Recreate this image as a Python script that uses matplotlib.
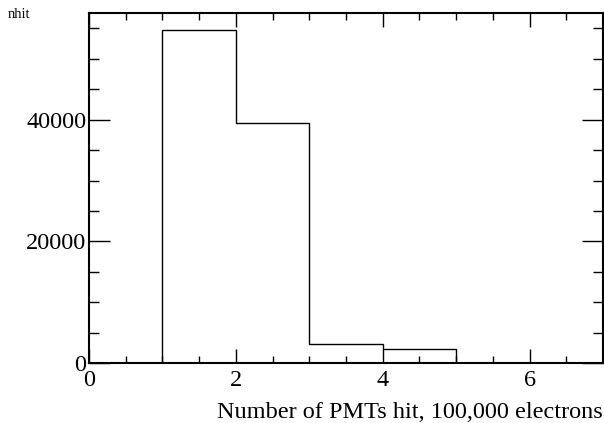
import matplotlib
matplotlib.use("Agg")
import matplotlib.pyplot as plt
from matplotlib.ticker import MultipleLocator

bin_edges = [0, 1, 2, 3, 4, 5, 6, 7]
counts = [0, 54800, 39500, 3130, 2380, 0, 0]
xticks = [0, 2, 4, 6]
yticks = [0, 20000, 40000]
xlabel = "Number of PMTs hit, 100,000 electrons"
ylabel = "nhit"

plt.rcParams['font.family'] = ['Liberation Serif', 'DejaVu Serif']
fig = plt.figure(figsize=(6.04, 4.23), dpi=100)
ax = fig.add_axes([89/604, 1-363/423, 514/604, 350/423])
ax.stairs(counts, bin_edges, color='black', linewidth=1.0)
ax.set_xlim(0, 7)
ax.set_ylim(0, 1.05*max(counts))
ax.set_xticks(xticks)
ax.set_yticks(yticks)
ax.set_xticklabels([str(t) for t in xticks])
ax.set_yticklabels([str(t) for t in yticks])
ax.xaxis.set_minor_locator(MultipleLocator(0.5))
ax.yaxis.set_minor_locator(MultipleLocator(5000))
ax.tick_params(axis='both', which='both', direction='in', top=True, right=True,
               labelsize=17.5, width=1.0, colors='black')
ax.tick_params(axis='x', which='major', length=10, pad=5)
ax.tick_params(axis='x', which='minor', length=5)
ax.tick_params(axis='y', which='major', length=15, pad=2)
ax.tick_params(axis='y', which='minor', length=7.5)
for s in ax.spines.values():
    s.set_linewidth(1.5)
ax.set_xlabel(xlabel, fontsize=17.5, loc='right', labelpad=8)
fig.text(8/604, 1-14/423, ylabel, fontsize=10.5, ha='left', va='center')
fig.savefig("out.png", dpi=100)
